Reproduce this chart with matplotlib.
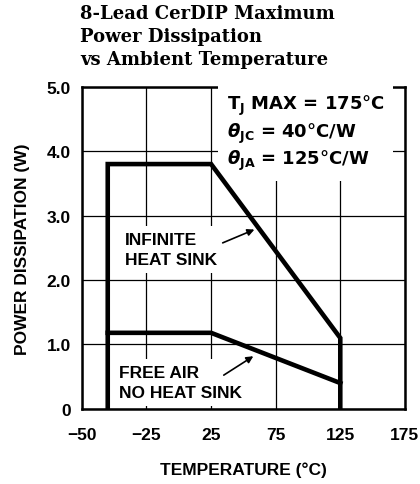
import matplotlib
matplotlib.use("Agg")
import matplotlib.pyplot as plt

# temperatures (°C) and power (W) along each derating curve
temp_hs = [-55, -55, 25, 125, 125]
power_hs = [0, 3.8, 3.8, 1.1, 0]
temp_air = [-55, 25, 125]
power_air = [1.18, 1.18, 0.4]

x_ticks = [-75, -25, 25, 75, 125, 175]
x_labels = ["\u221250", "\u221225", "25", "75", "125", "175"]
y_ticks = [0, 1, 2, 3, 4, 5]
y_labels = ["0", "1.0", "2.0", "3.0", "4.0", "5.0"]

plt.rcParams['font.family'] = ['Liberation Sans', 'DejaVu Sans']
plt.rcParams['mathtext.fontset'] = 'custom'
plt.rcParams['mathtext.rm'] = 'DejaVu Sans:bold'
plt.rcParams['mathtext.it'] = 'DejaVu Sans:italic:bold'
plt.rcParams['mathtext.bf'] = 'DejaVu Sans:bold'

fig = plt.figure(figsize=(4.2, 4.85), dpi=100)
ax = fig.add_axes([0.195, 0.155, 0.769, 0.664])

ax.set_xlim(-75, 175)
ax.set_ylim(0, 5)
ax.set_xticks(x_ticks)
ax.set_xticklabels(x_labels)
ax.set_yticks(y_ticks)
ax.set_yticklabels(y_labels)
ax.tick_params(axis='x', length=0, labelsize=12.5, pad=13)
ax.tick_params(axis='y', length=0, labelsize=12.5, pad=8)
for lab in ax.get_xticklabels() + ax.get_yticklabels():
    lab.set_fontweight('bold')
ax.grid(True, color='black', linewidth=0.9)
for s in ax.spines.values():
    s.set_linewidth(1.8)

ax.plot(temp_hs, power_hs, color='black', linewidth=3.3, solid_joinstyle='miter', zorder=4)
ax.plot(temp_air, power_air, color='black', linewidth=3.3, solid_joinstyle='miter', zorder=4)

box = dict(facecolor='white', edgecolor='none', pad=4)
ax.text(37, 4.9, "T$_\\mathregular{J}$ MAX = 175\u00b0C\n"
        "$\\theta_\\mathregular{JC}$ = 40\u00b0C/W\n"
        "$\\theta_\\mathregular{JA}$ = 125\u00b0C/W",
        family='DejaVu Sans', fontsize=13, fontweight='bold', va='top', ha='left',
        linespacing=1.2, bbox=dict(facecolor='white', edgecolor='none', pad=6), zorder=3)

ax.text(-42, 2.47, "INFINITE\nHEAT SINK", fontsize=12.5, fontweight='bold',
        va='center', ha='left', linespacing=1.45, bbox=box, zorder=3)
ax.annotate("", xy=(60.5, 2.8), xytext=(32, 2.56),
            arrowprops=dict(arrowstyle='-|>', color='black', lw=1.2, mutation_scale=10), zorder=5)

ax.text(-46, 0.41, "FREE AIR\nNO HEAT SINK", fontsize=12.5, fontweight='bold',
        va='center', ha='left', linespacing=1.45, bbox=box, zorder=3)
ax.annotate("", xy=(59.5, 0.84), xytext=(33, 0.5),
            arrowprops=dict(arrowstyle='-|>', color='black', lw=1.2, mutation_scale=10), zorder=5)

ax.set_xlabel("TEMPERATURE (\u00b0C)", fontsize=12.5, fontweight='bold', labelpad=14)
ax.set_ylabel("POWER DISSIPATION (W)", fontsize=12.5, fontweight='bold', labelpad=12)

fig.text(0.19, 0.99, "8-Lead CerDIP Maximum\nPower Dissipation\nvs Ambient Temperature",
         family='DejaVu Serif', fontweight='bold', fontsize=13, va='top', ha='left',
         linespacing=1.35)

fig.savefig("out.png", dpi=100)
